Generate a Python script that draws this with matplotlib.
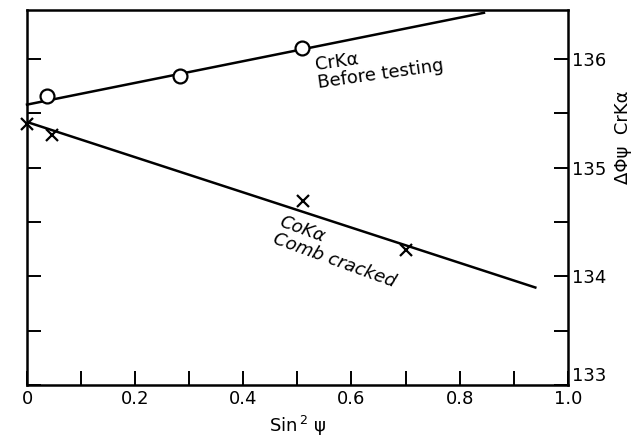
import numpy as np
import matplotlib.pyplot as plt
from matplotlib.ticker import MultipleLocator

# Cr K-alpha, before testing (open circles)
cr_x = [0.037, 0.283, 0.508]
cr_y = [135.66, 135.84, 136.10]
cr_fit = [135.58, 1.00]      # intercept, slope
cr_range = [0.0, 0.845]

# Co K-alpha, comb cracked (crosses)
co_x = [0.0, 0.046, 0.51, 0.70]
co_y = [135.40, 135.30, 134.69, 134.24]
co_fit = [135.42, -1.62]
co_range = [0.0, 0.94]

fig = plt.figure(figsize=(6.43, 4.38), dpi=100)
ax = fig.add_axes([0.042, 0.121, 0.841, 0.856])

xs = np.array(cr_range)
ax.plot(xs, cr_fit[0] + cr_fit[1] * xs, color="black", lw=1.8, clip_on=False)
ax.plot(cr_x, cr_y, "o", ms=10, mfc="white", mec="black", mew=1.6)

xs = np.array(co_range)
ax.plot(xs, co_fit[0] + co_fit[1] * xs, color="black", lw=1.8)
ax.plot(co_x, co_y, "x", ms=9, color="black", mew=1.6, clip_on=False)

ax.set_xlim(0, 1.0)
ax.set_ylim(133, 136.45)

ax.xaxis.set_major_locator(MultipleLocator(0.2))
ax.xaxis.set_minor_locator(MultipleLocator(0.1))
ax.yaxis.set_major_locator(MultipleLocator(1))
ax.yaxis.set_minor_locator(MultipleLocator(0.5))
ax.set_xticks([0, 0.2, 0.4, 0.6, 0.8, 1.0])
ax.set_xticklabels(["0", "0.2", "0.4", "0.6", "0.8", "1.0"])

ax.tick_params(which="both", direction="in", length=10, width=1.4,
               left=True, right=True, top=False, bottom=True,
               labelleft=False, labelright=True, labelsize=13)
ax.tick_params(axis="y", pad=3)
for s in ax.spines.values():
    s.set_linewidth(1.8)

# lift the lowest right label so it clears "1.0"
fig.canvas.draw()
for lab in ax.get_yticklabels(which="major"):
    if lab.get_text() == "133":
        lab.set_va("bottom")

ax.set_xlabel(r"Sin$^{\,2}$ ψ", fontsize=13, labelpad=4)
ax.yaxis.set_label_position("right")
ax.set_ylabel("ΔΦψ  CrKα", fontsize=13)
ax.yaxis.set_label_coords(1.085, 0.66)

ax.text(0.53, 136.19, "CrKα\nBefore testing", fontsize=13, rotation=8,
        va="top", ha="left", linespacing=1.0)
ax.text(0.45, 134.58, "CoKα\nComb cracked", fontsize=13, rotation=-20,
        va="top", ha="left", linespacing=1.0, style="italic")

fig.savefig("out.png", dpi=100)
